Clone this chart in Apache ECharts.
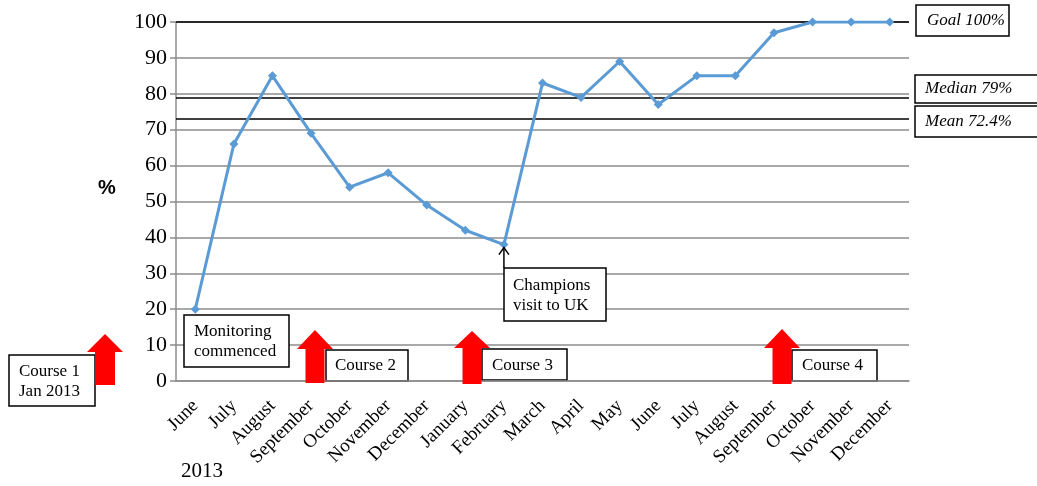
<!DOCTYPE html>
<html>
<head>
<meta charset="utf-8">
<script src="https://cdn.jsdelivr.net/npm/echarts@6/dist/echarts.min.js"></script>
<style>
  html, body { margin: 0; padding: 0; background: #fff; }
  #chart { width: 1037px; height: 486px; }
</style>
</head>
<body>
<div id="chart"></div>
<script>
// months monitored, June 2013 onwards
var months = ['June', 'July', 'August', 'September', 'October', 'November', 'December',
  'January', 'February', 'March', 'April', 'May', 'June', 'July', 'August',
  'September', 'October', 'November', 'December'];
var compliance = [20, 66, 85, 69, 54, 58, 49, 42, 38, 83, 79, 89, 77, 85, 85, 97, 100, 100, 100];
var refNames = ['Goal 100%', 'Median 79%', 'Mean 72.4%'];
var refValues = [100, 79, 73];
var yTicks = [0, 10, 20, 30, 40, 50, 60, 70, 80, 90, 100];

var serif = '"Liberation Serif", "DejaVu Serif", serif';
var chart = echarts.init(document.getElementById('chart'));

// boxed text note, ty = middle of the text block
function box(x, y, w, h, lines, tx, ty, italic) {
  return {
    type: 'group',
    children: [
      { type: 'rect', shape: { x: x, y: y, width: w, height: h },
        style: { fill: '#fff', stroke: '#000', lineWidth: 1.5 } },
      { type: 'text', x: tx, y: ty,
        style: { text: lines.join('\n'), font: (italic ? 'italic ' : '') + '17px ' + serif,
          fill: '#000', lineHeight: 20, textVerticalAlign: 'middle' } }
    ]
  };
}

// red up arrow
function upArrow(cx, tip, headBase, bottom, headHalf, shaftHalf) {
  return {
    type: 'polygon',
    shape: { points: [
      [cx, tip], [cx + headHalf, headBase], [cx + shaftHalf, headBase], [cx + shaftHalf, bottom],
      [cx - shaftHalf, bottom], [cx - shaftHalf, headBase], [cx - headHalf, headBase]
    ] },
    style: { fill: '#ff0000' },
    z: 10
  };
}

var option = {
  animation: false,
  grid: { left: 176, right: 128, top: 22, bottom: 105 },
  xAxis: {
    type: 'category',
    data: months,
    axisLine: { lineStyle: { color: '#8c8c8c', width: 1.5 } },
    axisTick: { length: 5, lineStyle: { color: '#8c8c8c', width: 1.5 } },
    axisLabel: { interval: 0, rotate: 45, margin: 22, color: '#000', fontSize: 19, fontFamily: serif }
  },
  yAxis: {
    type: 'value',
    min: 0, max: 100, interval: 10,
    axisLine: { show: true, lineStyle: { color: '#8c8c8c', width: 1.5 } },
    axisTick: { show: true, length: 6, lineStyle: { color: '#8c8c8c', width: 1.5 } },
    axisLabel: { margin: 9, color: '#000', fontSize: 22, fontFamily: serif,
      formatter: function (v) { return yTicks.indexOf(v) >= 0 ? v : ''; } },
    splitLine: { lineStyle: { color: '#8c8c8c', width: 1.5 } }
  },
  series: [{
    type: 'line',
    data: compliance,
    symbol: 'diamond',
    symbolSize: 9,
    lineStyle: { color: '#5b9bd5', width: 3 },
    itemStyle: { color: '#5b9bd5' },
    z: 5,
    markLine: {
      silent: true,
      symbol: 'none',
      label: { show: false },
      lineStyle: { color: '#000', width: 1.5, type: 'solid' },
      data: refValues.map(function (v, i) { return { yAxis: v, name: refNames[i] }; })
    }
  }]
};
chart.setOption(option);

// champions arrow points at February (index 8)
var feb = chart.convertToPixel({ seriesIndex: 0 }, [8, compliance[8]]);
var ax = feb[0], tipY = feb[1] + 3;

chart.setOption({
  graphic: [
    box(916, 5, 93, 31, [refNames[0]], 927, 21, true),
    box(915, 75, 124, 28, [refNames[1]], 925, 89, true),
    box(915, 106, 124, 31, [refNames[2]], 925, 122, true),
    upArrow(105, 334, 352, 385, 18, 10),
    upArrow(315, 330, 349, 383, 18, 9.5),
    upArrow(472, 331, 348, 384, 18, 9.5),
    upArrow(782, 329, 348, 384, 18, 9.5),
    box(9, 355, 86, 51, ['Course 1', 'Jan 2013'], 19, 382),
    box(184, 315, 105, 52, ['Monitoring', 'commenced'], 194, 342),
    box(326, 350, 82, 31, ['Course 2'], 335, 366),
    box(482, 349, 85, 31, ['Course 3'], 492, 366),
    box(792, 350, 85, 31, ['Course 4'], 802, 366),
    box(504, 268, 102, 53, ['Champions', 'visit to UK'], 513, 296),
    { type: 'polyline', shape: { points: [[ax, 268], [ax, tipY]] },
      style: { stroke: '#000', lineWidth: 1.5 }, z: 10 },
    { type: 'polyline', shape: { points: [[ax - 5, tipY + 7], [ax, tipY], [ax + 5, tipY + 7]] },
      style: { stroke: '#000', lineWidth: 1.5, fill: null }, z: 10 },
    { type: 'text', x: 107, y: 188,
      style: { text: '%', font: 'bold 20px "Liberation Sans", Arial, sans-serif', fill: '#000',
        textAlign: 'center', textVerticalAlign: 'middle' } },
    { type: 'text', x: 181, y: 471,
      style: { text: '2013', font: '21px ' + serif, fill: '#000', textVerticalAlign: 'middle' } }
  ]
});
</script>
</body>
</html>
